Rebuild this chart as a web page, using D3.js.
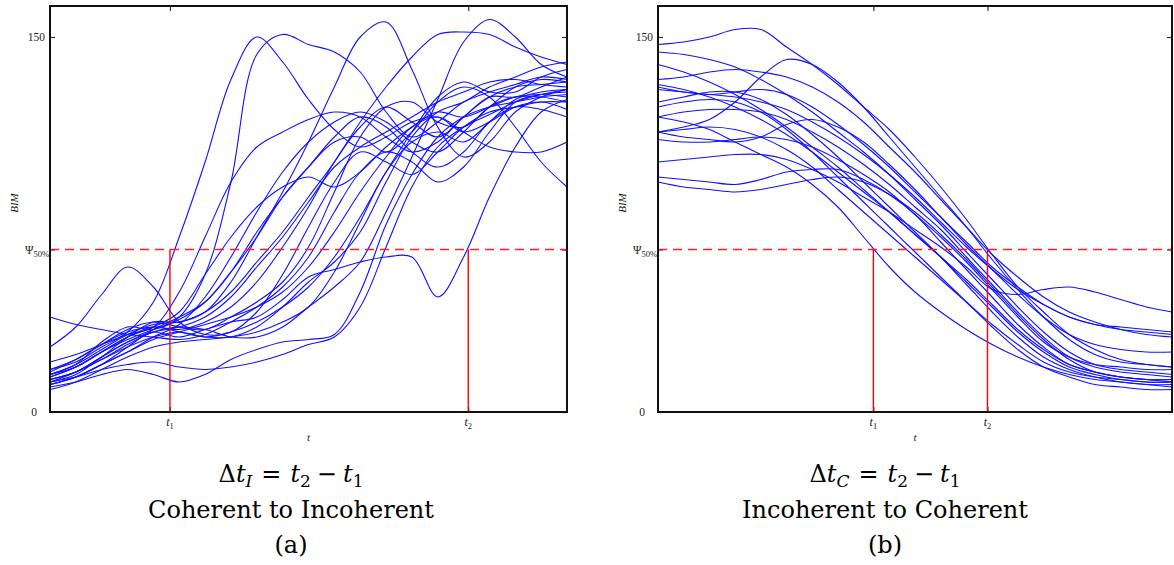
<!DOCTYPE html>
<html><head><meta charset="utf-8">
<script src="https://cdn.jsdelivr.net/npm/d3@7"></script>
<style>body{margin:0;background:#fff}svg{display:block}</style>
</head><body>
<svg id="chart" width="1174" height="565"></svg>
<script>
// ---- data ----
const T = [0,5,10,15,20,25,30,35,40,45,50,55,60,65,70,75,80,85,90,95,100];
const yMax = 162.4;
const psi50 = 65;
const yTickValues = [0, psi50, 150];
const yTickLabels = ["0", "Ψ", "150"];
const tMarksA = [23.2, 80.9];
const tMarksB = [41.9, 64.1];
const tLabels = ["1", "2"];
const captionA = ["Coherent to Incoherent", "(a)", "I"];
const captionB = ["Incoherent to Coherent", "(b)", "C"];

const seriesA = [
 [17,20,26,32,44,70,100,133,150,140,125,113,106,110,116,118,112,116,122,124,121],
 [15,19,28,34,33,38,55,92,143,151,147,144,136,120,110,116,124,128,131,134,133],
 [26,34,47,58,50,36,31,32,40,55,74,92,104,100,95,104,114,120,122,124,124],
 [38,35,33,31,30,29,31,36,42,50,62,80,96,104,100,92,98,112,124,127,128],
 [10,12,15,17,15,12,15,21,25,28,29,31,48,75,95,110,118,122,124,126,127],
 [13,16,22,28,32,30,33,36,38,45,54,57,60,62,62,46,62,86,106,120,125],
 [14,18,24,30,34,40,55,70,82,90,94,90,96,106,114,120,118,122,126,127,126],
 [11,14,19,26,33,38,44,56,72,86,98,110,118,114,104,98,104,116,122,121,118],
 [16,21,27,33,36,34,33,38,44,52,66,88,110,122,124,116,114,122,130,133,132],
 [12,15,22,30,36,36,40,52,70,88,108,130,150,156,137,114,102,108,120,126,129],
 [13,16,21,27,32,34,33,30,30,34,42,50,60,80,102,125,148,157,150,139,134],
 [15,19,25,31,35,36,40,48,60,72,86,100,116,130,142,151,152,151,146,142,139],
 [14,18,24,29,33,37,44,56,70,86,98,108,110,104,112,124,130,126,114,100,90],
 [11,14,19,24,29,32,35,38,42,48,58,72,88,102,114,118,112,106,104,104,108],
 [17,21,27,32,34,33,36,42,52,66,82,100,114,122,116,110,118,126,126,130,134],
 [9,12,17,22,26,28,29,30,32,36,42,56,76,96,108,112,108,116,125,128,129],
 [13,16,21,26,30,32,30,30,34,42,52,60,72,92,110,120,124,130,134,138,140],
 [20,23,27,31,34,48,70,92,106,112,117,120,118,110,104,108,118,126,130,131,132],
 [11,14,19,24,30,35,46,62,80,96,108,116,120,116,108,104,112,122,126,126,124],
 [12,14,17,19,20,18,17,18,20,23,27,30,42,66,90,106,114,119,124,127,129],
 [15,18,24,30,34,32,30,32,36,42,50,62,78,96,112,126,132,128,128,134,137],
 [12,16,22,28,32,34,38,46,58,70,84,98,106,112,118,124,128,132,133,131,130]
];

const seriesB = [
 [147,148,150,153,153,146,139,131,122,113,102,90,77,63,50,40,31,25,21,19,18],
 [144,143,141,138,133,127,120,112,104,95,85,75,64,53,42,32,24,19,17,16,15],
 [139,136,132,127,121,114,106,98,89,80,71,62,52,42,32,24,18,15,13,12,12],
 [112,114,117,124,134,141,139,132,122,110,98,86,74,61,49,38,29,23,20,19,18],
 [133,134,136,137,136,134,130,124,116,106,96,85,74,63,54,46,40,36,33,31,30],
 [131,129,126,122,117,111,104,96,88,80,71,62,53,43,33,25,19,16,14,13,13],
 [130,128,127,126,124,121,116,110,103,95,86,76,66,57,49,43,38,35,33,32,31],
 [129,128,127,128,129,127,122,115,107,98,88,78,68,58,50,43,38,35,34,33,32],
 [124,126,128,128,125,119,111,102,92,82,72,62,51,40,30,22,17,14,12,11,11],
 [122,124,125,124,120,113,104,94,84,74,64,54,44,34,25,18,14,11,10,9,9],
 [118,116,113,108,103,98,91,82,70,58,48,40,33,27,22,18,15,13,12,11,10],
 [118,120,121,121,120,117,112,106,99,91,82,73,62,51,40,30,22,18,16,15,14],
 [112,110,109,108,110,115,117,114,108,99,89,78,67,57,47,38,31,27,25,24,24],
 [112,113,114,113,110,105,98,89,80,71,62,53,44,35,27,20,16,14,13,12,12],
 [109,108,108,109,110,109,106,101,95,88,79,70,60,49,38,28,22,19,18,17,17],
 [100,101,102,103,103,101,97,92,86,80,73,66,58,49,47,49,50,48,45,42,40],
 [94,93,92,91,93,96,97,97,93,87,79,68,57,46,35,26,19,16,14,13,13],
 [92,90,89,88,89,91,93,94,92,87,80,71,61,50,39,29,21,16,14,13,12]
];

// ---- drawing ----
const svg = d3.select("#chart");
const SERIF = "'Liberation Serif','DejaVu Serif',serif";
const CAPFONT = "'DejaVu Serif','Liberation Serif',serif";

function panel(o) {
  const x = d3.scaleLinear().domain([0,100]).range([o.left, o.right]);
  const y = d3.scaleLinear().domain([0,yMax]).range([o.bottom, o.top]);
  const g = svg.append("g");

  const line = d3.line().x((d,i)=>x(T[i])).y(d=>y(d)).curve(d3.curveCatmullRom.alpha(0.5));
  g.append("g").selectAll("path").data(o.series).join("path")
    .attr("d", line).attr("fill","none").attr("stroke","#1010ff").attr("stroke-width",1.1);

  // axes ticks
  const axL = d3.axisLeft(y).tickValues(yTickValues).tickSize(-5).tickFormat("");
  const axR = d3.axisRight(y).tickValues(yTickValues).tickSize(-5).tickFormat("");
  const axB = d3.axisBottom(x).tickValues(o.marks).tickSize(-5).tickFormat("");
  const axT = d3.axisTop(x).tickValues(o.marks).tickSize(-5).tickFormat("");
  [[axL,`translate(${o.left},0)`],[axR,`translate(${o.right},0)`],[axB,`translate(0,${o.bottom})`],[axT,`translate(0,${o.top})`]]
   .forEach(([ax,tr])=>{
     const a = g.append("g").attr("transform",tr).call(ax);
     a.select(".domain").remove();
     a.selectAll(".tick line").attr("stroke","#333").attr("stroke-width",1.2);
   });

  // Psi dashed line
  g.append("line").attr("x1",o.left).attr("x2",o.right).attr("y1",y(psi50)).attr("y2",y(psi50))
    .style("stroke","#ff2020").style("stroke-width","1.6px").style("stroke-dasharray","9,6");
  // vertical t lines
  g.append("g").selectAll("line").data(o.marks).join("line")
    .attr("x1",d=>x(d)).attr("x2",d=>x(d)).attr("y1",o.bottom).attr("y2",y(psi50))
    .style("stroke","#ff0000").style("stroke-width","1.4px");

  g.append("rect").attr("x",o.left).attr("y",o.top).attr("width",o.right-o.left).attr("height",o.bottom-o.top)
    .attr("fill","none").attr("stroke","#111").attr("stroke-width",2);

  // y tick labels
  const yl = g.append("g").attr("font-family",SERIF).attr("font-size",11.5).attr("fill","#222");
  yl.append("text").attr("x",o.left-5).attr("y",y(150)+4).attr("text-anchor","end").text(yTickLabels[2]);
  yl.append("text").attr("x",o.left-13).attr("y",y(0)+4).attr("text-anchor","end").text(yTickLabels[0]);
  const pt = yl.append("text").attr("x",o.left-1).attr("y",y(psi50)+4).attr("text-anchor","end");
  pt.append("tspan").text(yTickLabels[1]);
  pt.append("tspan").attr("font-size",8.5).attr("dy",3).text("50%");

  // x tick labels
  o.marks.forEach((m,i)=>{
    const t = g.append("text").attr("x",x(m)).attr("y",o.bottom+14).attr("text-anchor","middle")
      .attr("font-family",SERIF).attr("font-size",12).attr("fill","#222");
    t.append("tspan").attr("font-style","italic").text("t");
    t.append("tspan").attr("font-size",8.5).attr("dy",3).text(tLabels[i]);
  });
  // axis labels
  g.append("text").attr("x",(o.left+o.right)/2).attr("y",o.bottom+29).attr("text-anchor","middle")
    .attr("font-family",SERIF).attr("font-style","italic").attr("font-size",11).attr("fill","#222").text("t");
  g.append("text").attr("transform",`translate(${o.left-32},203) rotate(-90)`).attr("text-anchor","middle")
    .attr("font-family",SERIF).attr("font-style","italic").attr("font-size",11).attr("fill","#222").text("BIM");

  // captions
  const cx = o.capX;
  const c1 = g.append("text").attr("x",cx).attr("y",482).attr("text-anchor","middle")
    .attr("font-family",CAPFONT).attr("font-size",24).attr("fill","#000");
  c1.append("tspan").text("Δ");
  c1.append("tspan").attr("font-style","italic").text("t");
  c1.append("tspan").attr("font-style","italic").attr("font-size",17).attr("dy",5).text(o.cap[2]);
  c1.append("tspan").attr("dy",-5).attr("dx",9).text("=");
  c1.append("tspan").attr("font-style","italic").attr("dx",9).text("t");
  c1.append("tspan").attr("font-size",17).attr("dy",5).text("2");
  c1.append("tspan").attr("dy",-5).attr("dx",6).text("−");
  c1.append("tspan").attr("font-style","italic").attr("dx",6).text("t");
  c1.append("tspan").attr("font-size",17).attr("dy",5).text("1");
  g.append("text").attr("x",cx).attr("y",518).attr("text-anchor","middle")
    .attr("font-family",CAPFONT).attr("font-size",24).attr("fill","#000").text(o.cap[0]);
  g.append("text").attr("x",cx).attr("y",553).attr("text-anchor","middle")
    .attr("font-family",CAPFONT).attr("font-size",24).attr("fill","#000").text(o.cap[1]);
}

panel({left:50,right:567,top:6,bottom:412,series:seriesA,marks:tMarksA,cap:captionA,capX:291});
panel({left:658,right:1172,top:6,bottom:412,series:seriesB,marks:tMarksB,cap:captionB,capX:885});
</script>
</body></html>
